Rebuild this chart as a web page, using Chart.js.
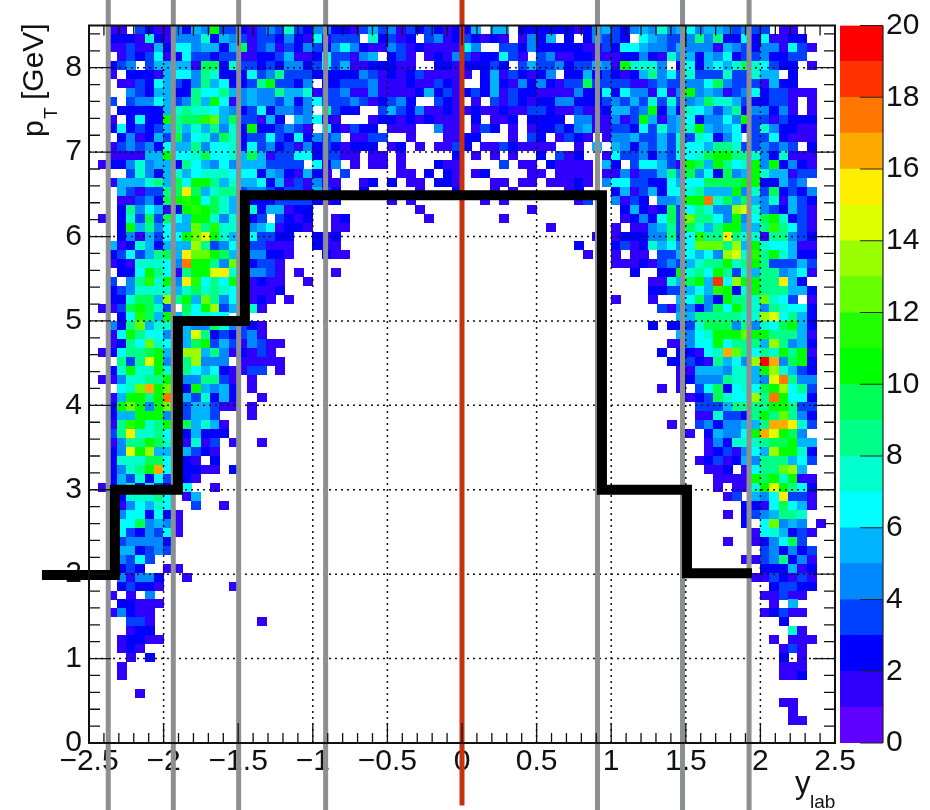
<!DOCTYPE html>
<html>
<head>
<meta charset="utf-8">
<title>pT vs ylab</title>
<script src="https://cdn.jsdelivr.net/npm/chart.js@4"></script>
<style>
html, body { margin: 0; padding: 0; background: #fff; overflow: hidden; }
#wrap { position: relative; width: 930px; height: 810px; }
canvas { position: absolute; left: 0; top: 0; }
</style>
</head>
<body>
<div id="wrap">
  <canvas id="mainChart" width="930" height="810"></canvas>
  <canvas id="paletteChart" width="930" height="810"></canvas>
</div>
<script>
// counts per cell. one string per row from the top (pT = 8.5 down), '.' = empty,
// base 36 for the count. Split in 3 blocks : columns 0-26, 27-54, 55-79
const rowsLeft = [
  "..11. 32114 254a3 32134 37324 42",
  "..222 17214 44725 43133 24216 13",
  "..113 11526 64552 59134 13243 24",
  "...13 23612 63323 31122 35112 63",
  "..234 .3555 51992 73323 24423 63",
  "..1.2 22156 64872 22634 83332 22",
  "...11 32653 24856 2238a 3324. 22",
  "....4 32552 28668 54544 85571 33",
  "..3.3 44653 485a6 14544 35246 33",
  "...22 22257 87765 42362 4434. 83",
  "..1.2 622a8 99bc5 93315 2.546 21",
  "..262 32358 57584 72a22 3431. 62",
  "...24 12539 46749 72336 32624 34",
  "..134 34265 58466 72634 23142 32",
  "..111 155a6 67966 75951 33662 33",
  ".1224 74552 86546 45553 333.6 24",
  "....3 74257 56777 66625 42152 1.",
  "..155 57859 6aa85 75562 51314 11",
  "...53 13389 f9578 83443 23315 32",
  "...11 3429a ba697 52222 33332 12",
  "...28 46512 aba97 5.725 5122. ..",
  ".1.27 39396 5aa74 7.23. 3212. .1",
  "...2a 58465 5c8b7 7.456 1221. .1",
  "...24 15366 acea7 5.633 22..2 12",
  "..512 75255 5d834 6.331 11..2 11",
  "..236 35895 fcca9 5.442 21... 21",
  "..121 77764 haa84 c.233 1.... ..",
  "...22 6a861 8aaef 7.443 1.1.. .1",
  "..3.4 8b7a4 fb686 a.121 1..1. ..",
  "..234 77775 79787 6.111 2.... ..",
  "..227 995d8 a5c84 6.121 .1... ..",
  ".1139 a973. 96ad3 5.71. ..... ..",
  "...26 b95a5 86766 ..... ..... ..",
  "..428 c5776 54497 4321. ..... ..",
  "..16a 86644 5e823 2341. ..... ..",
  "..128 6c766 59a35 31431 1.... ..",
  ".1268 89a57 dd584 12131 ..... ..",
  "...83 8ea48 8d444 .1111 1.... ..",
  "..27a 77a7. 86562 1133. 1.... ..",
  ".1147 788a. 44883 1.1.. ..... ..",
  "...67 cgac. 2a545 2.1.. ..... ..",
  "..15a a8ah. 53725 2..1. ..... ..",
  "..2ac a4ac. 35531 1.1.. ..... ..",
  "..255 aaa4. 3553. ..1.. ..... ..",
  "..18b a78a. 95751 ..... ..... ..",
  "..38f 7786. 25222 ..... ..... ..",
  "..148 8a97. 1713. 1..1. ..... ..",
  "..24e ad55. 5321. ..... ..... ..",
  "..277 7996. 21.2. ..... ..... ..",
  "..247 8ag6. 2211. 2.... ..... ..",
  "..253 7263. 21... ..... ..... ..",
  ".1257 2632. 6..1. ..... ..... ..",
  "...27 7786. 15... ..... ..... ..",
  "...14 6576. .3..1 ..... ..... ..",
  "...46 62621 ..... ..... ..... ..",
  "...66 94541 ..... ..... ..... ..",
  "...63 24361 ..... ..... ..... ..",
  "...34 4442. ..... ..... ..... ..",
  "...55 2343. ..... ..... ..... ..",
  "...43 63... ..... ..... ..... ..",
  "...23 2..11 ..... ..... ..... ..",
  "...41 442.. 1.... ..... ..... ..",
  "...23 221.. ..... 1.... ..... ..",
  "..1.1 .4... ..... ..... ..... ..",
  "...22 111.. ..... ..... ..... ..",
  "..142 11... ..... ..... ..... ..",
  "....3 31... ..... ...1. ..... ..",
  "....1 22... ..... ..... ..... ..",
  "...12 211.. ..... ..... ..... ..",
  "...12 1.... ..... ..... ..... ..",
  "....1 .2... ..... ..... ..... ..",
  "...1. ..... ..... ..... ..... ..",
  "...1. ..... ..... ..... ..... ..",
  "..... ..... ..... ..... ..... ..",
  ".... .1.... ..... ..... ..... ..."
];
const rowsMid = [
  "21353 41323 21225 .55.2 22222 124",
  "33.72 312.3 41232 121.1 425.2 .24",
  "64211 43121 11164 ..332 42222 211",
  "3145. 231.1 21431 22631 .3411 221",
  "51122 211.. 22122 232.3 53342 335",
  "22431 21231 1111. 25132 124.2 252",
  "33341 11211 321.. 25214 24213 393",
  "41141 11125 23123 25132 21111 422",
  "34312 342.. 321.1 .3132 12244 222",
  "22..3 53241 12112 11211 33211 311",
  "...12 21212 111.2 .112. 2222. 441",
  "1322. 111.. 411.1 32.1. 12232 451",
  ".1133 ..1.. .1122 ...1. 32.13 21.",
  "1222. 12.1. 1132. 11321 111.. 1.5",
  "11.11 .1... ..2.1 .1.1. .2.31 2..",
  ".1.11 .1... 211.. ..3.1 1.211 11.",
  "3.... .11.2 .21.1 2.... 11.11 11.",
  "..12. 2.11. 221.. .11.1 1.111 21.",
  "..2.. ...1. ..2.. .1.1. ....1 2..",
  "..... 1.1.. ..... 1.1.. ..... 13.",
  "..... ...1. ..... ..... 1.... ...",
  "2.... ....1 ..... ..1.. ..... ...",
  "1.... ..... ..... ..... ..1.. ...",
  "..... ..... ..... ..... ..... ..1",
  "..... ..... ..... ..... ..... 2..",
  "1.... ..... ..... ..... ..... .1."
];
const rowsRight = [
  "53245 47456 45543 433.1 1....",
  "332.6 54334 84822 62611 22...",
  "32665 44354 44154 32441 631..",
  "11224 21745 25462 33422 33...",
  "41a77 74.26 25657 97632 2.1..",
  "32125 84637 33373 3755. 2....",
  "33311 34334 46943 33152 2....",
  "62644 1614a 45413 46233 111..",
  "34353 73734 59775 32233 1.1..",
  "25534 a2527 65358 24424 1.1..",
  "1413a 51456 24464 a3313 222..",
  "13326 37457 a5456 23742 211..",
  "14453 35373 76246 .3362 111..",
  ".5424 35376 65887 33434 3.2..",
  "16334 24366 79aa8 87427 111..",
  "52.36 6531a 95a86 7a4a2 421..",
  "11413 35849 46294 5a755 133..",
  "46633 22656 69999 aa225 34...",
  ".2513 52667 8555a 47392 324..",
  ".4132 .445a ah795 95471 532..",
  "..252 12936 8744d e7432 531..",
  "..124 2693c 8864a 469a7 231..",
  ".1.11 45839 758aa 558b8 631..",
  ".1222 44836 b88f8 77188 432..",
  ".2312 75646 ccc8d 5a766 511..",
  ".1.11 .3356 564de 7b8a7 522..",
  ".1112 13435 788a7 8a833 353..",
  "...2. .22a7 86a83 75884 561..",
  "..... 11759 a5i6d aa88f 52...",
  "..... 22335 65ba2 7a888 552..",
  ".1... 1..56 942a8 87c76 3.1..",
  "..... .3144 2496a 87487 662..",
  "..... ...55 88888 77de6 852..",
  "..... 2.223 79994 84769 a52..",
  "..... ...54 67aaa caa88 851..",
  "..... ..114 66a68 885d8 452..",
  "..... .2.22 167gc 8687a 8a1..",
  "..... ..223 21856 4djg4 9a2..",
  "..... ...11 55547 75ad7 532..",
  "..... ...12 44487 754eh 844..",
  "..... .1.1. 36926 769ad 683..",
  "..... ....1 23976 6d8ha 662..",
  "..... ..... 33358 888aa 833..",
  "..... ..... 11733 28a8c 842..",
  "..... ..1.. 34244 558gg f73..",
  "..... ....1 .2544 6agea 94...",
  "..... ..... .1427 77899 a55..",
  "..... ..... .1231 465da a72..",
  "..... ..... 12312 54888 563..",
  "..... ..... .112. 1688c d5...",
  "..... ..... ..111 1a9a7 a11..",
  "..... ..... ..1.1 17aea 862..",
  "..... ..... ...13 .546f 331..",
  "..... ..... ..... 22169 651..",
  "..... ..... ...1. 23458 87...",
  "..... ..... ..... 2.6c4 54.1.",
  "..... ..... ..... .1675 231..",
  "..... ..... ...1. .1246 93...",
  "..... ..... ..... ..342 423..",
  "..... ..... ..... 11348 241..",
  "..... ..... ..... ..222 512..",
  "..... ..... ..... .1132 131..",
  "..... ..... ..... ...23 322..",
  "..... ..... ..... ..113 11...",
  "..... ..... ..... ...1. 5....",
  "..... ..... ..... ..123 11...",
  "..... ..... ..... ....2 .....",
  "..... ..... ..... ..... 71...",
  "..... ..... ..... ...1. 111..",
  "..... ..... ..... ....1 31...",
  "..... ..... ..... ....2 .1...",
  "..... ..... ..... ....1 11...",
  "..... ..... ..... ....1 12...",
  "..... ..... ..... ..... .....",
  "..... ..... ..... ..... .....",
  "..... ..... ..... ....1 1....",
  "..... ..... ..... ..... 1....",
  "..... ..... ..... ..... 11..."
];

const nBins = 80;
const xMin = -2.5, xMax = 2.5, yMin = 0, yMax = 8.5;

const xTicks = [-2.5, -2, -1.5, -1, -0.5, 0, 0.5, 1, 1.5, 2, 2.5];
const yTicks = [0, 1, 2, 3, 4, 5, 6, 7, 8];
const zTicks = [0, 2, 4, 6, 8, 10, 12, 14, 16, 18, 20];

const paletteColors = [
  '#6000ff', '#3000ff', '#0000ff', '#0040ff', '#0088ff',
  '#00b4ff', '#00ffff', '#00ffcc', '#00ff88', '#00ff55',
  '#00ff00', '#22ff00', '#66ff00', '#99ff00', '#ddff00',
  '#ffee00', '#ffaa00', '#ff7700', '#ff3300', '#ff0000'
];

// vertical lines and the black threshold steps
const grayLines = [-2.371, -1.935, -1.497, -0.914, 0.908, 1.478, 1.924];
const redLine = [0];
const stepX = [-2.782, -2.326, -2.326, -1.904, -1.904, -1.455, -1.455, 0.938, 0.938, 1.508, 1.508, 1.91];
const stepY = [1.99, 1.99, 3, 3, 5, 5, 6.49, 6.49, 3, 3, 2.01, 2.01];

const plotLeft = 89, plotRight = 835, plotTop = 25.5, plotBottom = 743;
const fontName = '"Liberation Sans", Arial, sans-serif';

/* lit les 3 blocs et fabrique les cellules */
let cells = [];
const blockLeft = 27, blockMid = 28;
for (let j = 0; j < nBins; j++) {
  let l = (rowsLeft[j] || '').replace(/ /g, '').padEnd(blockLeft, '.').slice(0, blockLeft);
  let m = (rowsMid[j] || '').replace(/ /g, '').padEnd(blockMid, '.').slice(0, blockMid);
  let r = (rowsRight[j] || '').replace(/ /g, '');
  let row = l + m + r;
  for (let i = 0; i < nBins; i++) {
    if (row[i] === undefined || row[i] === '.') continue;
    cells.push({
      x: xMin + (i + 0.5) * (xMax - xMin) / nBins,
      y: yMax - (j + 0.5) * (yMax - yMin) / nBins,
      v: parseInt(row[i], 36)
    });
  }
}

// one little sprite per palette colour, size of a bin (rounded up so no gaps)
const cellW = Math.ceil((plotRight - plotLeft) / nBins);
const cellH = Math.ceil((plotBottom - plotTop) / nBins);
const sprites = paletteColors.map(c => {
  let cv = document.createElement('canvas');
  cv.width = cellW;
  cv.height = cellH;
  let g = cv.getContext('2d');
  g.fillStyle = c;
  g.fillRect(0, 0, cellW, cellH);
  return cv;
});

// dotted grid has to be above the cells but under the lines, so it is a dataset too
let gridPts = [];
xTicks.slice(1, -1).forEach(v => { gridPts.push({x: v, y: yMin}, {x: v, y: yMax}, {x: NaN, y: NaN}); });
yTicks.slice(1).forEach(v => { gridPts.push({x: xMin, y: v}, {x: xMax, y: v}, {x: NaN, y: NaN}); });

const lineTop = 8.82, lineBottom = -0.8, redBottom = -0.74;
let grayPts = [];
grayLines.forEach(v => { grayPts.push({x: v, y: lineTop}, {x: v, y: lineBottom}, {x: NaN, y: NaN}); });
const redPts = [{x: redLine[0], y: lineTop}, {x: redLine[0], y: redBottom}];
const stepPts = stepX.map((v, i) => ({x: v, y: stepY[i]}));

// ROOT style : ticks inside the frame, on all 4 sides, plus the titles
const frameAndTicks = {
  id: 'frameAndTicks',
  afterDatasetsDraw(chart) {
    const g = chart.ctx, a = chart.chartArea;
    const sx = chart.scales.x, sy = chart.scales.y;
    g.save();
    g.strokeStyle = '#111';
    g.lineWidth = 1.3;
    g.beginPath();
    for (let k = 0; k <= 50; k++) {
      let v = xMin + k * 0.1;
      let len = k % 5 === 0 ? 20 : 10;
      let p = sx.getPixelForValue(v);
      g.moveTo(p, a.bottom); g.lineTo(p, a.bottom - len);
      g.moveTo(p, a.top); g.lineTo(p, a.top + len);
    }
    for (let k = 0; k <= 42; k++) {
      let v = k * 0.2;
      let len = k % 5 === 0 ? 22 : 11;
      let p = sy.getPixelForValue(v);
      g.moveTo(a.left, p); g.lineTo(a.left + len, p);
      g.moveTo(a.right, p); g.lineTo(a.right - len, p);
    }
    g.stroke();
    g.lineWidth = 2;
    g.strokeRect(a.left, a.top, a.right - a.left, a.bottom - a.top);

    // titres
    g.fillStyle = '#111';
    g.textBaseline = 'alphabetic';
    g.textAlign = 'left';
    g.font = '31px ' + fontName;
    g.fillText('y', 795, 793);
    g.font = '19px ' + fontName;
    g.fillText('lab', 810, 808);
    g.translate(43, 137);
    g.rotate(-Math.PI / 2);
    g.font = '30px ' + fontName;
    g.fillText('p', 0, 0);
    g.font = '19px ' + fontName;
    g.fillText('T', 18, 14);
    g.font = '30px ' + fontName;
    g.fillText('[GeV]', 37, 0);
    g.restore();
  }
};

const mainCtx = document.getElementById('mainChart').getContext('2d');
const mainChart = new Chart(mainCtx, {
  type: 'scatter',
  data: {
    datasets: [
      {
        label: 'cells',
        data: cells,
        order: 5,
        pointRadius: 5,
        pointHoverRadius: 5,
        pointStyle: c => (c.raw ? sprites[Math.min(c.raw.v, 19)] : 'rect')
      },
      {
        label: 'grid',
        data: gridPts,
        order: 4,
        showLine: true,
        pointRadius: 0,
        borderColor: '#111',
        borderWidth: 1.5,
        borderDash: [2, 4],
        spanGaps: false
      },
      {
        label: 'gray',
        data: grayPts,
        order: 3,
        showLine: true,
        pointRadius: 0,
        borderColor: '#8d8f92',
        borderWidth: 5,
        spanGaps: false,
        clip: false
      },
      {
        label: 'red',
        data: redPts,
        order: 2,
        showLine: true,
        pointRadius: 0,
        borderColor: '#c8300e',
        borderWidth: 5,
        clip: false
      },
      {
        label: 'steps',
        data: stepPts,
        order: 1,
        showLine: true,
        pointRadius: 0,
        borderColor: '#000',
        borderWidth: 10,
        borderCapStyle: 'square',
        borderJoinStyle: 'miter',
        tension: 0,
        clip: false
      }
    ]
  },
  options: {
    responsive: false,
    animation: false,
    events: [],
    layout: { padding: { left: 0, top: plotTop, right: 930 - plotRight, bottom: 0 } },
    plugins: { legend: { display: false }, tooltip: { enabled: false } },
    scales: {
      x: {
        type: 'linear',
        min: xMin,
        max: xMax,
        grid: { display: false },
        border: { display: false },
        afterBuildTicks: s => { s.ticks = xTicks.map(v => ({value: v})); },
        afterFit: s => { s.height = 810 - plotBottom; },
        ticks: {
          autoSkip: false,
          maxRotation: 0,
          padding: -7,
          color: '#111',
          font: { family: fontName, size: 30 },
          callback: v => String(v).replace('-', '\u2212')
        }
      },
      y: {
        type: 'linear',
        min: yMin,
        max: yMax,
        grid: { display: false },
        border: { display: false },
        afterBuildTicks: s => { s.ticks = yTicks.map(v => ({value: v})); },
        afterFit: s => { s.width = plotLeft; },
        ticks: {
          autoSkip: false,
          padding: -1,
          color: '#111',
          font: { family: fontName, size: 30 },
          callback: v => String(v)
        }
      }
    }
  },
  plugins: [frameAndTicks]
});

// colour bar, second chart on top : a stacked bar with one unit per colour
const barTicks = {
  id: 'barTicks',
  afterDatasetsDraw(chart) {
    const g = chart.ctx, a = chart.chartArea, sy = chart.scales.y;
    g.save();
    g.strokeStyle = '#222';
    g.lineWidth = 1.2;
    g.beginPath();
    zTicks.forEach(v => {
      let p = sy.getPixelForValue(v);
      g.moveTo(a.right, p);
      g.lineTo(a.right - 23, p);
    });
    g.moveTo(a.right, a.top);
    g.lineTo(a.right, a.bottom);
    g.stroke();
    g.restore();
  }
};

const paletteCtx = document.getElementById('paletteChart').getContext('2d');
const paletteChart = new Chart(paletteCtx, {
  type: 'bar',
  data: {
    labels: ['z'],
    datasets: paletteColors.map(c => ({
      data: [1],
      backgroundColor: c,
      barPercentage: 1,
      categoryPercentage: 1,
      stack: 'z'
    }))
  },
  options: {
    responsive: false,
    animation: false,
    events: [],
    layout: { padding: { left: 840, top: plotTop, right: 0, bottom: 810 - plotBottom } },
    plugins: { legend: { display: false }, tooltip: { enabled: false } },
    scales: {
      x: { stacked: true, display: false },
      y: {
        position: 'right',
        stacked: true,
        min: 0,
        max: 20,
        grid: { display: false },
        border: { display: false },
        afterBuildTicks: s => { s.ticks = zTicks.map(v => ({value: v})); },
        afterFit: s => { s.width = 930 - 883; },
        ticks: {
          autoSkip: false,
          padding: -5,
          color: '#111',
          font: { family: fontName, size: 30 },
          callback: v => String(v)
        }
      }
    }
  },
  plugins: [barTicks]
});
</script>
</body>
</html>
